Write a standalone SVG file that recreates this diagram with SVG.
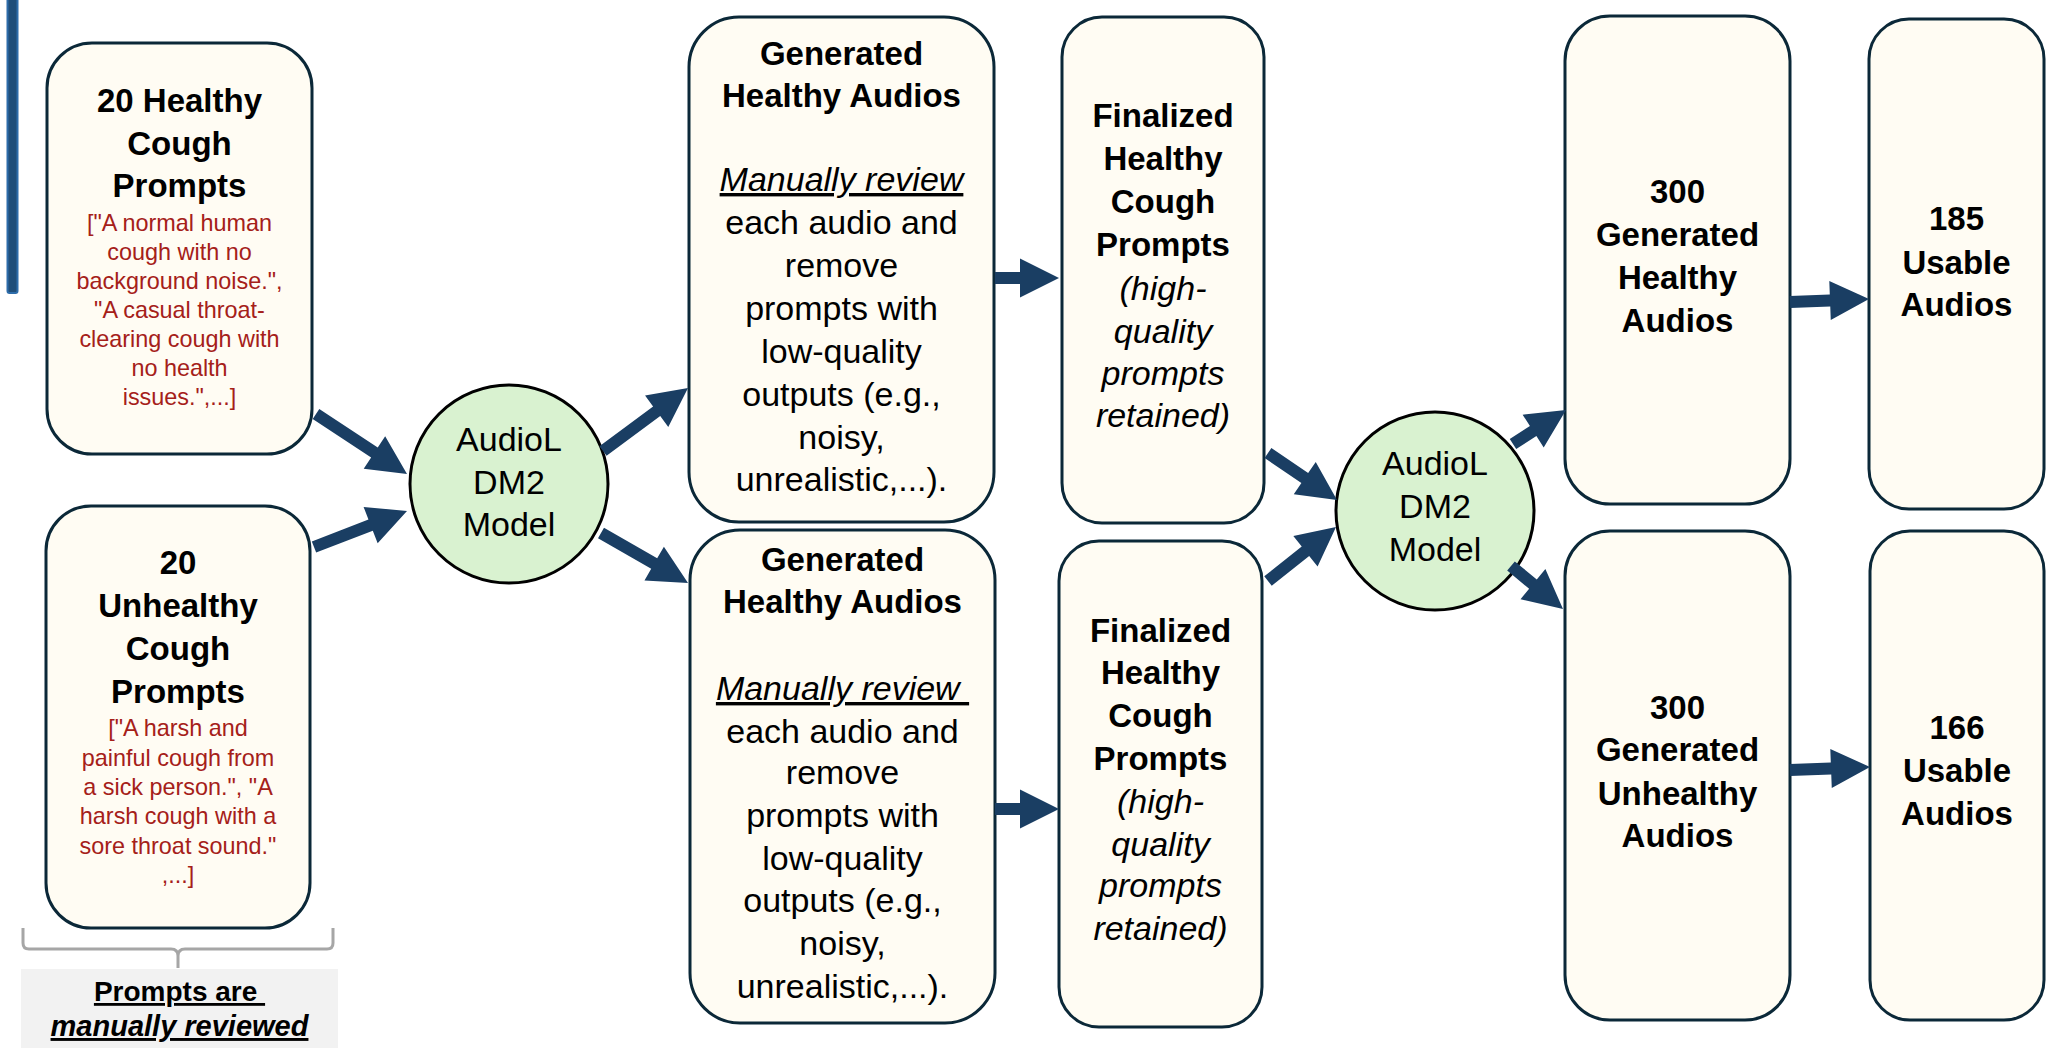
<svg xmlns="http://www.w3.org/2000/svg" width="2061" height="1064" viewBox="0 0 2061 1064">
<style>
.box{fill:#FFFCF3;stroke:#0B2838;stroke-width:3}
.circ{fill:#D9F2D0;stroke:#000;stroke-width:3}
.arr{fill:#1A3E63}
text{font-family:"Liberation Sans",Arial,sans-serif;text-anchor:middle;fill:#000}
.t{font-size:33px;font-weight:bold}
.r{font-size:34px}
.i{font-size:34px;font-style:italic}
.red{font-size:23.4px;fill:#A52019}
.m{font-size:34px}
</style>
<rect x="0" y="0" width="2061" height="1064" fill="#FFFFFF"/>
<rect x="7.5" y="-5" width="10" height="298" rx="2" fill="#1F4E79" stroke="#2E6DAA" stroke-width="2"/>

<g id="prompts-healthy">
<rect class="box" x="47" y="43" width="265" height="411" rx="45"/>
<text class="t" x="179.5" y="112">20 Healthy</text>
<text class="t" x="179.5" y="155">Cough</text>
<text class="t" x="179.5" y="197">Prompts</text>
<text class="red" x="179.5" y="231">["A normal human</text>
<text class="red" x="179.5" y="260">cough with no</text>
<text class="red" x="179.5" y="289">background noise.",</text>
<text class="red" x="179.5" y="318">"A casual throat-</text>
<text class="red" x="179.5" y="347">clearing cough with</text>
<text class="red" x="179.5" y="376">no health</text>
<text class="red" x="179.5" y="405">issues.",...]</text>
</g>

<g id="prompts-unhealthy">
<rect class="box" x="46" y="506" width="264" height="422" rx="45"/>
<text class="t" x="178" y="574">20</text>
<text class="t" x="178" y="617">Unhealthy</text>
<text class="t" x="178" y="660">Cough</text>
<text class="t" x="178" y="703">Prompts</text>
<text class="red" x="178" y="736">["A harsh and</text>
<text class="red" x="178" y="766">painful cough from</text>
<text class="red" x="178" y="795">a sick person.", "A</text>
<text class="red" x="178" y="824">harsh cough with a</text>
<text class="red" x="178" y="854">sore throat sound."</text>
<text class="red" x="178" y="883">,...]</text>
</g>

<g id="review-note">
<path d="M23,928 L23,943 Q23,949 29,949 L171,949 Q178,949 178,956 L178,968 M178,956 Q178,949 185,949 L327,949 Q333,949 333,943 L333,928" fill="none" stroke="#A6A6A6" stroke-width="3"/>
<rect x="21" y="969" width="317" height="79" fill="#F2F2F2"/>
<text x="179.5" y="1001" font-size="28" font-weight="bold" text-decoration="underline" xml:space="preserve">Prompts are </text>
<text x="179.5" y="1036" font-size="29" font-weight="bold" font-style="italic" text-decoration="underline">manually reviewed</text>
</g>

<g id="model-1">
<circle class="circ" cx="509" cy="484" r="99"/>
<text class="m" x="509" y="451">AudioL</text>
<text class="m" x="509" y="494">DM2</text>
<text class="m" x="509" y="536">Model</text>
</g>

<g id="generated-top">
<rect class="box" x="689" y="17" width="305" height="505" rx="50"/>
<text class="t" x="841.5" y="65">Generated</text>
<text class="t" x="841.5" y="107">Healthy Audios</text>
<text class="i" x="841.5" y="191" text-decoration="underline">Manually review</text>
<text class="r" x="841.5" y="234">each audio and</text>
<text class="r" x="841.5" y="277">remove</text>
<text class="r" x="841.5" y="320">prompts with</text>
<text class="r" x="841.5" y="363">low-quality</text>
<text class="r" x="841.5" y="406">outputs (e.g.,</text>
<text class="r" x="841.5" y="449">noisy,</text>
<text class="r" x="841.5" y="491">unrealistic,...).</text>
</g>

<g id="generated-bottom">
<rect class="box" x="690" y="530" width="305" height="493" rx="50"/>
<text class="t" x="842.5" y="571">Generated</text>
<text class="t" x="842.5" y="613">Healthy Audios</text>
<text class="i" x="842.5" y="700" text-decoration="underline" xml:space="preserve">Manually review </text>
<text class="r" x="842.5" y="743">each audio and</text>
<text class="r" x="842.5" y="784">remove</text>
<text class="r" x="842.5" y="827">prompts with</text>
<text class="r" x="842.5" y="870">low-quality</text>
<text class="r" x="842.5" y="912">outputs (e.g.,</text>
<text class="r" x="842.5" y="955">noisy,</text>
<text class="r" x="842.5" y="998">unrealistic,...).</text>
</g>

<g id="finalized-top">
<rect class="box" x="1062" y="17" width="202" height="506" rx="40"/>
<text class="t" x="1163" y="127">Finalized</text>
<text class="t" x="1163" y="170">Healthy</text>
<text class="t" x="1163" y="213">Cough</text>
<text class="t" x="1163" y="256">Prompts</text>
<text class="i" x="1163" y="300">(high-</text>
<text class="i" x="1163" y="343">quality</text>
<text class="i" x="1163" y="385">prompts</text>
<text class="i" x="1163" y="427">retained)</text>
</g>

<g id="finalized-bottom">
<rect class="box" x="1059" y="541" width="203" height="486" rx="40"/>
<text class="t" x="1160.5" y="642">Finalized</text>
<text class="t" x="1160.5" y="684">Healthy</text>
<text class="t" x="1160.5" y="727">Cough</text>
<text class="t" x="1160.5" y="770">Prompts</text>
<text class="i" x="1160.5" y="813">(high-</text>
<text class="i" x="1160.5" y="856">quality</text>
<text class="i" x="1160.5" y="897">prompts</text>
<text class="i" x="1160.5" y="940">retained)</text>
</g>

<g id="model-2">
<circle class="circ" cx="1435" cy="511" r="99"/>
<text class="m" x="1435" y="475">AudioL</text>
<text class="m" x="1435" y="518">DM2</text>
<text class="m" x="1435" y="561">Model</text>
</g>

<g id="generated-300-healthy">
<rect class="box" x="1565" y="16" width="225" height="488" rx="45"/>
<text class="t" x="1677.5" y="203">300</text>
<text class="t" x="1677.5" y="246">Generated</text>
<text class="t" x="1677.5" y="289">Healthy</text>
<text class="t" x="1677.5" y="332">Audios</text>
</g>

<g id="usable-185">
<rect class="box" x="1869" y="19" width="175" height="490" rx="40"/>
<text class="t" x="1956.5" y="230">185</text>
<text class="t" x="1956.5" y="274">Usable</text>
<text class="t" x="1956.5" y="316">Audios</text>
</g>

<g id="generated-300-unhealthy">
<rect class="box" x="1565" y="531" width="225" height="489" rx="45"/>
<text class="t" x="1677.5" y="719">300</text>
<text class="t" x="1677.5" y="761">Generated</text>
<text class="t" x="1677.5" y="805">Unhealthy</text>
<text class="t" x="1677.5" y="847">Audios</text>
</g>

<g id="usable-166">
<rect class="box" x="1870" y="531" width="174" height="489" rx="40"/>
<text class="t" x="1957" y="739">166</text>
<text class="t" x="1957" y="782">Usable</text>
<text class="t" x="1957" y="825">Audios</text>
</g>

<g id="connectors" class="arr">
<polygon points="312.70,419.01 371.14,457.54 363.71,468.81 407,474 385.17,436.25 377.74,447.52 319.30,408.99"/>
<polygon points="316.17,552.60 372.80,530.68 377.67,543.27 407,511 363.59,506.89 368.46,519.48 311.83,541.40"/>
<polygon points="606.57,455.82 660.24,416.04 668.28,426.89 688,388 645.06,395.55 653.10,406.40 599.43,446.18"/>
<polygon points="598.01,538.20 651.20,568.77 644.47,580.48 688,583 663.91,546.66 657.18,558.37 603.99,527.80"/>
<polygon points="995,284 1020,284 1020,297.5 1059,278 1020,258.5 1020,272 995,272"/>
<polygon points="995,815 1020,815 1020,828.5 1059,809 1020,789.5 1020,803 995,803"/>
<polygon points="1264.62,457.96 1301.39,483.01 1293.79,494.17 1337,500 1315.75,461.93 1308.15,473.09 1271.38,448.04"/>
<polygon points="1271.73,585.70 1309.19,555.95 1317.59,566.52 1336,527 1293.33,535.98 1301.73,546.55 1264.27,576.30"/>
<polygon points="1516.24,449.05 1536.41,436.11 1543.70,447.47 1566,410 1522.64,414.65 1529.93,426.01 1509.76,438.95"/>
<polygon points="1507.18,570.62 1529.13,588.77 1520.52,599.18 1563,609 1545.38,569.12 1536.77,579.53 1514.82,561.38"/>
<polygon points="1790.23,308.0 1830.26,306.48 1830.77,319.97 1869,299 1829.29,280.99 1829.80,294.48 1789.77,296.0"/>
<polygon points="1790.23,776.0 1831.26,774.46 1831.76,787.95 1870,767 1830.30,748.97 1830.80,762.46 1789.77,764.0"/>
</g>
</svg>
